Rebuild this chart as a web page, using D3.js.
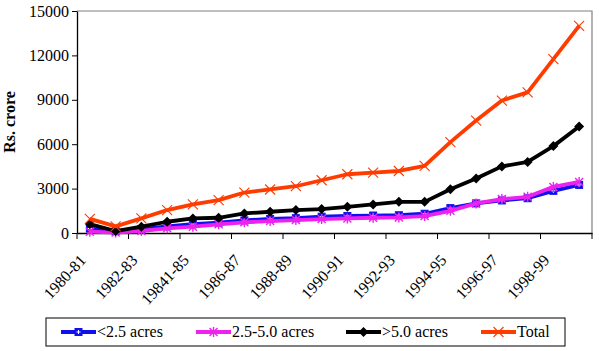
<!DOCTYPE html>
<html>
<head>
<meta charset="utf-8">
<script src="https://cdn.jsdelivr.net/npm/d3@7"></script>
<style>
  body { margin: 0; background: #fff; }
  svg text { font-family: 'Liberation Serif', 'Times New Roman', serif; }
  .axis path, .axis line { stroke: #000; }
</style>
</head>
<body>
<svg id="chart"></svg>
<script>
const years = ['1980-81', '1981-82', '1982-83', '1983-84', '19841-85', '1985-86', '1986-87', '1987-88',
  '1988-89', '1989-90', '1990-91', '1991-92', '1992-93', '1993-94', '1994-95', '1995-96',
  '1996-97', '1997-98', '1998-99', '1999-00'];

const small = [300, 120, 260, 450, 600, 700, 850, 950, 1000, 1100, 1150, 1180, 1200, 1300, 1680, 2000, 2200, 2350, 2850, 3250];
const medium = [90, 30, 135, 315, 425, 585, 720, 805, 875, 940, 985, 1030, 1050, 1145, 1500, 2000, 2290, 2445, 3115, 3450];
const large = [605, 135, 425, 760, 985, 1030, 1325, 1435, 1550, 1615, 1770, 1930, 2105, 2105, 2960, 3680, 4500, 4800, 5870, 7200];
const total = [950, 450, 985, 1550, 1930, 2220, 2735, 2940, 3160, 3565, 3970, 4080, 4190, 4530, 6140, 7600, 8950, 9500, 11750, 13990];

const yTicks = [0, 3000, 6000, 9000, 12000, 15000];

const series = [
  {name: '<2.5 acres', values: small, color: '#1010ee', marker: 'square'},
  {name: '2.5-5.0 acres', values: medium, color: '#ee22ee', marker: 'star'},
  {name: '>5.0 acres', values: large, color: '#000000', marker: 'diamond'},
  {name: 'Total', values: total, color: '#ff3c00', marker: 'cross'}
];

const W = 599, H = 351;
const margin = {top: 11, right: 7, bottom: 118, left: 77};
const width = W - margin.left - margin.right;
const height = H - margin.top - margin.bottom;

const svg = d3.select('#chart').attr('width', W).attr('height', H);
const chart = svg.append('g').attr('transform', `translate(${margin.left},${margin.top})`);

const x = d3.scaleBand().domain(years).range([0, width]).padding(0);
const y = d3.scaleLinear().domain([0, 15000]).range([height, 0]);
const cx = d => x(d) + x.bandwidth() / 2;

// plot frame (top and right)
chart.append('path')
  .attr('d', `M0,0H${width}V${height}`)
  .attr('fill', 'none')
  .attr('stroke', '#808080')
  .attr('stroke-width', 1.2);

// y axis
chart.append('g')
  .attr('class', 'axis')
  .call(d3.axisLeft(y).tickValues(yTicks).tickSize(5).tickSizeOuter(0).tickPadding(3).tickFormat(d3.format('d')))
  .call(g => g.attr('font-size', 16))
  .call(g => g.select('.domain').attr('stroke-width', 1.3));

// x axis: labels on every other category
const xAxisG = chart.append('g')
  .attr('class', 'axis')
  .attr('transform', `translate(0,${height})`)
  .call(d3.axisBottom(x).tickValues(years.filter((d, i) => i % 2 === 0)).tickSize(0).tickSizeOuter(0))
  .call(g => g.attr('font-size', 16));
xAxisG.select('.domain').attr('stroke-width', 1.3);
xAxisG.selectAll('text')
  .attr('text-anchor', 'end')
  .attr('dy', 0)
  .attr('transform', 'translate(-3,28) rotate(-47)')
  .attr('y', 0)
  .attr('x', 0);

// x tick marks between category pairs
const tickPos = d3.range(0, years.length + 1, 2).map(i => i * x.bandwidth());
xAxisG.selectAll('.tickmark')
  .data(tickPos)
  .join('line')
  .attr('class', 'tickmark')
  .attr('x1', d => d).attr('x2', d => d)
  .attr('y1', 0).attr('y2', 6)
  .attr('stroke', '#000');

// y title
svg.append('text')
  .attr('transform', `translate(15,${margin.top + height / 2}) rotate(-90)`)
  .attr('text-anchor', 'middle')
  .attr('font-size', 16)
  .attr('font-weight', 'bold')
  .text('Rs. crore');

function drawMarker(g, type, color) {
  if (type === 'square') {
    g.append('rect').attr('x', -3.5).attr('y', -3.5).attr('width', 7).attr('height', 7)
      .attr('fill', color).attr('stroke', color);
    g.append('path').attr('d', 'M-2,0H2M0,-2V2').attr('stroke', '#fff').attr('stroke-width', 1);
  } else if (type === 'star') {
    g.append('path').attr('d', 'M-4,-4L4,4M-4,4L4,-4M0,-5V5')
      .attr('stroke', color).attr('stroke-width', 1.4).attr('fill', 'none');
  } else if (type === 'diamond') {
    g.append('path').attr('d', 'M0,-5L5,0L0,5L-5,0Z').attr('fill', color);
  } else {
    g.append('path').attr('d', 'M-5,-5L5,5M-5,5L5,-5')
      .attr('stroke', color).attr('stroke-width', 1.1).attr('fill', 'none');
  }
}

const line = d3.line().x((d, i) => cx(years[i])).y(d => y(d));

series.forEach(s => {
  chart.append('path')
    .datum(s.values)
    .attr('fill', 'none')
    .attr('stroke', s.color)
    .attr('stroke-width', 3.8)
    .attr('stroke-linejoin', 'round')
    .attr('d', line);
  s.values.forEach((v, i) => {
    const g = chart.append('g').attr('transform', `translate(${cx(years[i])},${y(v)})`);
    drawMarker(g, s.marker, s.color);
  });
});

// legend
const legend = svg.append('g').attr('transform', 'translate(46,318)');
legend.append('rect')
  .attr('width', 519).attr('height', 28)
  .attr('fill', '#fff').attr('stroke', '#000').attr('stroke-width', 1);
const legX = [15, 150, 300, 435];
series.forEach((s, i) => {
  const g = legend.append('g').attr('transform', `translate(${legX[i]},14)`);
  g.append('line').attr('x1', 0).attr('x2', 35).attr('stroke', s.color).attr('stroke-width', 4);
  const m = g.append('g').attr('transform', 'translate(17.5,0)');
  drawMarker(m, s.marker, s.color);
  g.append('text').attr('x', 36).attr('y', 5).attr('font-size', 16).text(s.name);
});
</script>
</body>
</html>
